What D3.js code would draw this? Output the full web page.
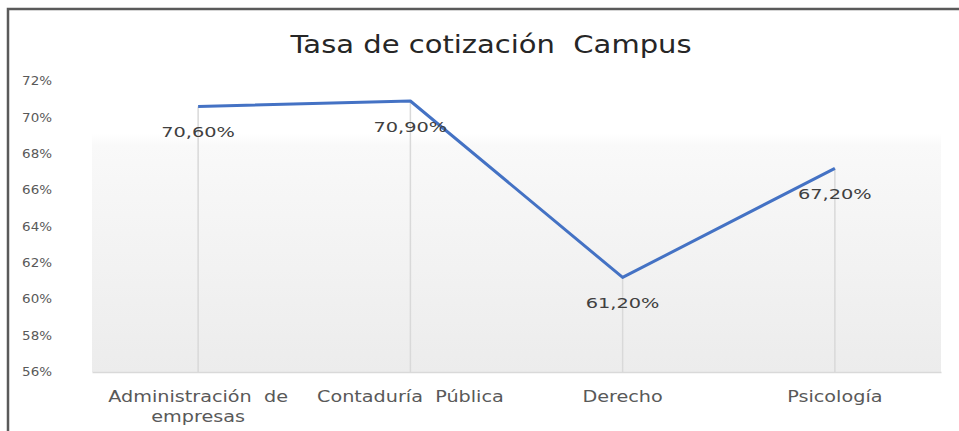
<!DOCTYPE html>
<html><head><meta charset="utf-8">
<script src="https://cdn.jsdelivr.net/npm/d3@7"></script>
<style>body{margin:0;background:#fff}svg{display:block}</style>
</head><body>
<svg id="c" width="959" height="431"></svg>
<script>
const categories = ["Administración  de|empresas", "Contaduría  Pública", "Derecho", "Psicología"];
const values = [70.6, 70.9, 61.2, 67.2];
const valueLabels = ["70,60%", "70,90%", "61,20%", "67,20%"];
const yTicks = [56, 58, 60, 62, 64, 66, 68, 70, 72];
const title = "Tasa de cotización  Campus";

const svg = d3.select("#c");
const m = {left: 92, right: 941, top: 81, bottom: 372};
const font = "DejaVu Sans, Verdana, sans-serif";
// horizontal stretch factor of the reference's text rendering
const stretch = (sel, k) => sel.each(function () {
  const w = this.getComputedTextLength();
  d3.select(this).attr("textLength", w * k).attr("lengthAdjust", "spacingAndGlyphs");
});

// chart border
svg.append("rect").attr("x", 8).attr("y", 9).attr("width", 960).attr("height", 440)
  .attr("fill", "#fff").attr("stroke", "#5a5a5a").attr("stroke-width", 2.5);

const x = d3.scaleBand().domain(categories).range([m.left, m.right]);
const y = d3.scaleLinear().domain([56, 72]).range([m.bottom, m.top]);

// plot area gradient
const defs = svg.append("defs");
const g = defs.append("linearGradient").attr("id", "pa").attr("x1", 0).attr("y1", 0).attr("x2", 0).attr("y2", 1);
g.append("stop").attr("offset", "0%").attr("stop-color", "#ffffff");
g.append("stop").attr("offset", "18%").attr("stop-color", "#ffffff");
g.append("stop").attr("offset", "22%").attr("stop-color", "#f9f9f9");
g.append("stop").attr("offset", "100%").attr("stop-color", "#ececec");
svg.append("rect").attr("x", m.left).attr("y", m.top).attr("width", m.right - m.left).attr("height", m.bottom - m.top)
  .attr("fill", "url(#pa)");

// title
svg.append("text").attr("x", 491).attr("y", 53).attr("text-anchor", "middle")
  .attr("font-family", font).attr("font-size", 25).attr("fill", "#262626")
  .style("white-space", "pre").text(title).call(stretch, 1.16);

// y axis
const yAxis = d3.axisLeft(y).tickValues(yTicks).tickFormat(d => d + "%").tickSize(0).tickPadding(0);
const ya = svg.append("g").attr("transform", `translate(52,0)`).call(yAxis);
ya.select(".domain").remove();
ya.selectAll("text").attr("font-family", font).attr("font-size", 11.5).attr("fill", "#595959")
  .call(stretch, 1.17);

// x axis
const xAxis = d3.axisBottom(x).tickSize(0).tickFormat("");
const xa = svg.append("g").attr("transform", `translate(0,${m.bottom})`).call(xAxis);
xa.select(".domain").attr("stroke", "#d9d9d9").attr("stroke-width", 1.5);
categories.forEach(c => {
  const lines = c.split("|");
  lines.forEach((l, i) => svg.append("text").attr("x", x(c) + x.bandwidth() / 2).attr("y", 402 + i * 20)
    .attr("text-anchor", "middle").attr("font-family", font).attr("font-size", 15).attr("fill", "#595959")
    .style("white-space", "pre").text(l).call(stretch, 1.28));
});

const cx = c => x(c) + x.bandwidth() / 2;
// drop lines
svg.selectAll(".drop").data(categories).join("line")
  .attr("x1", cx).attr("x2", cx).attr("y1", (d, i) => y(values[i])).attr("y2", m.bottom)
  .attr("stroke", "#d9d9d9").attr("stroke-width", 1.5);

// line
const line = d3.line().x((d, i) => cx(categories[i])).y(d => y(d));
svg.append("path").datum(values).attr("d", line).attr("fill", "none")
  .attr("stroke", "#4472c4").attr("stroke-width", 3).attr("stroke-linejoin", "round");

// labels
svg.selectAll(".lbl").data(values).join("text")
  .attr("x", (d, i) => cx(categories[i])).attr("y", d => y(d) + 31)
  .attr("text-anchor", "middle").attr("font-family", font).attr("font-size", 14).attr("fill", "#404040")
  .text((d, i) => valueLabels[i]).call(stretch, 1.38);
</script>
</body></html>
